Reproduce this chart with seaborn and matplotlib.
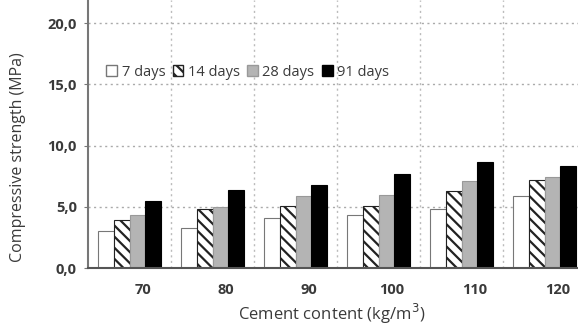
import pandas as pd
import seaborn as sns
import matplotlib.pyplot as plt
from matplotlib.patches import Patch
from matplotlib.ticker import FixedLocator

# data
cement = ["70", "80", "90", "100", "110", "120"]
ages = ["7 days", "14 days", "28 days", "91 days"]
d7 = [3.0, 3.3, 4.1, 4.3, 4.8, 5.9]
d14 = [3.9, 4.8, 5.1, 5.1, 6.3, 7.2]
d28 = [4.3, 5.0, 5.9, 6.0, 7.1, 7.45]
d91 = [5.5, 6.4, 6.8, 7.7, 8.7, 8.35]
yticks = [0, 5, 10, 15, 20]

rows = []
for age, vals in zip(ages, [d7, d14, d28, d91]):
    for c, v in zip(cement, vals):
        rows.append({"cement": c, "age": age, "strength": v})
df = pd.DataFrame(rows)

sns.set_style("white")
plt.rcParams["font.family"] = ["Open Sans", "DejaVu Sans"]
plt.rcParams["hatch.linewidth"] = 1.6
txt = "#3a3a3a"

fig = plt.figure(figsize=(5.78, 3.27), dpi=100)
ax = fig.add_axes([88 / 578, 59 / 327, 498 / 578, 268 / 327])

colors = ["white", "white", "#b4b4b4", "black"]
sns.barplot(data=df, x="cement", y="strength", hue="age", hue_order=ages,
            palette=colors, width=0.77, gap=0, ax=ax, legend=False,
            edgecolor="black", linewidth=0.8, saturation=1)

for cont, age in zip(ax.containers, ages):
    for b in cont:
        if age == "14 days":
            b.set_hatch("\\\\\\")
            b.set_edgecolor("#222222")
        elif age == "7 days":
            b.set_edgecolor("#777777")
        elif age == "28 days":
            b.set_edgecolor("#999999")

ax.set_xlim(-0.5, 5.5)
ax.set_ylim(0, 21.9)
ax.set_yticks(yticks)
ax.set_yticklabels([f"{v:.1f}".replace(".", ",") for v in yticks],
                   fontsize=10.5, fontweight="bold", color=txt)
ax.set_xticks([i + 0.16 for i in range(len(cement))])
ax.set_xticklabels(cement, fontsize=10.5, fontweight="bold", color=txt)
ax.xaxis.set_minor_locator(FixedLocator([i + 0.5 for i in range(len(cement))]))
ax.tick_params(axis="x", which="major", length=0, pad=11)
ax.tick_params(axis="x", which="minor", length=3, color="#777777", direction="out")
ax.tick_params(axis="y", length=3, color="#777777", direction="out", left=True, pad=5)

ax.grid(False)
for y in yticks[1:]:
    ax.axhline(y, color="#aaaaaa", linestyle=(0, (1.5, 2.5)), linewidth=1, zorder=0)
for x in [i + 0.5 for i in range(len(cement))]:
    ax.axvline(x, color="#bbbbbb", linestyle=(0, (1.5, 2.5)), linewidth=1, zorder=0)

for s in ["top", "right"]:
    ax.spines[s].set_visible(False)
ax.spines["left"].set_color("#777777")
ax.spines["left"].set_linewidth(1.5)
ax.spines["bottom"].set_color("#555555")
ax.spines["bottom"].set_linewidth(1.5)

ax.set_xlabel("Cement content (kg/m$^3$)", fontsize=12, color=txt, va="center")
ax.set_ylabel("Compressive strength (MPa)", fontsize=11.5, color=txt, va="center")
ax.xaxis.set_label_coords((332 - 88) / 498, -46 / 268)
ax.yaxis.set_label_coords(-70 / 498, (268 - 157) / 268)

handles = [
    Patch(facecolor="white", edgecolor="#777777", label="7 days"),
    Patch(facecolor="white", edgecolor="#222222", hatch="\\\\\\", label="14 days"),
    Patch(facecolor="#b4b4b4", edgecolor="#999999", label="28 days"),
    Patch(facecolor="black", edgecolor="black", label="91 days"),
]
leg = ax.legend(handles=handles, loc="center left", bbox_to_anchor=(0.025, 0.73),
                ncol=4, frameon=False, fontsize=10.5, handlelength=0.75,
                handleheight=0.75, handletextpad=0.3, columnspacing=0.5,
                borderaxespad=0)
for t in leg.get_texts():
    t.set_color(txt)

fig.savefig("out.png", dpi=100)
